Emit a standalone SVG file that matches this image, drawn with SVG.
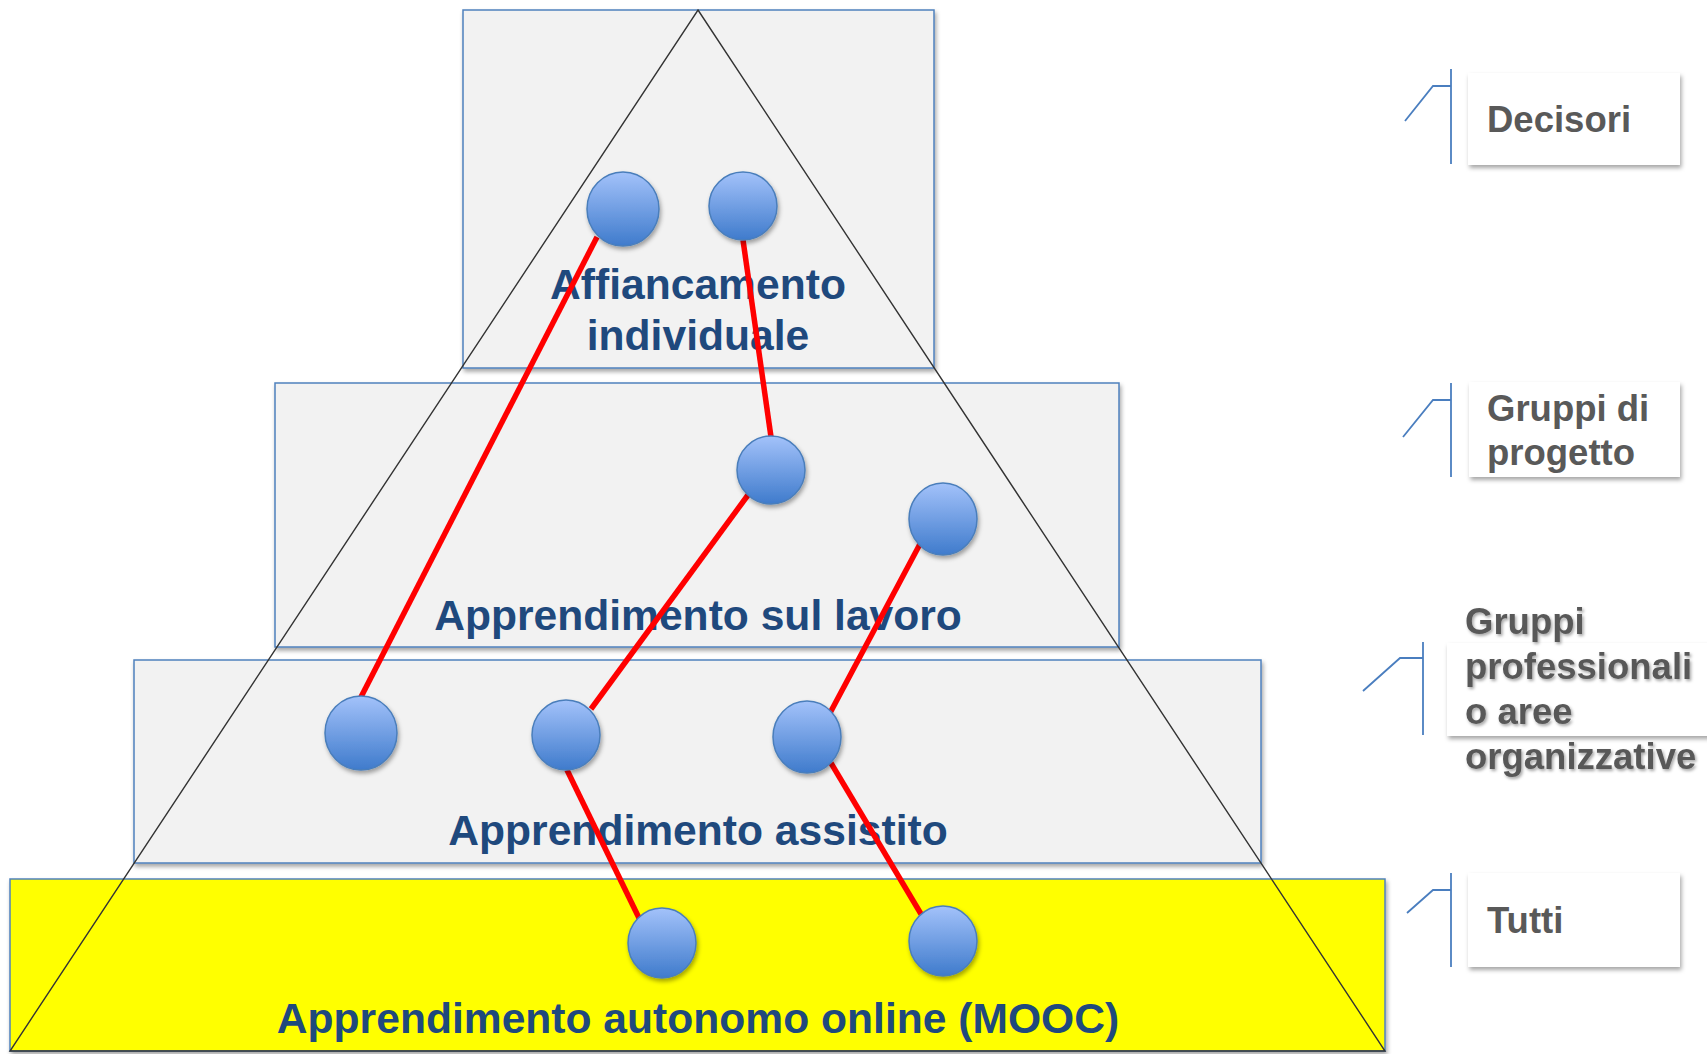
<svg xmlns="http://www.w3.org/2000/svg" width="1707" height="1054" viewBox="0 0 1707 1054">
<defs>
<linearGradient id="ball" x1="0" y1="0" x2="0" y2="1">
<stop offset="0" stop-color="#A3C2FA"/>
<stop offset="1" stop-color="#3F7BCC"/>
</linearGradient>
<filter id="sh" x="-10%" y="-10%" width="130%" height="130%">
<feDropShadow dx="1.5" dy="3" stdDeviation="2" flood-color="#000" flood-opacity="0.35"/>
</filter>
<filter id="tsh" x="-10%" y="-20%" width="130%" height="150%">
<feDropShadow dx="1.5" dy="2" stdDeviation="1.5" flood-color="#000" flood-opacity="0.35"/>
</filter>
<style>
.box{fill:#F2F2F2;stroke:#4F81BD;stroke-width:1.5;filter:url(#sh)}
.lvl{font-family:"Liberation Sans",Arial,sans-serif;font-weight:bold;font-size:42.6px;fill:#1F497D;text-anchor:middle}
.lab{font-family:"Liberation Sans",Arial,sans-serif;font-weight:bold;font-size:36.5px;fill:#595959}
.lbox{fill:#FFFFFF;filter:url(#sh)}
.brk{fill:none;stroke:#4A7EBF;stroke-width:1.8}
.link{stroke:#FF0000;stroke-width:5.5;stroke-linecap:butt}
.ball{fill:url(#ball);stroke:#4A7EBB;stroke-width:1.5;filter:url(#sh)}
</style>
</defs>
<g id="levels">
<g id="level-affiancamento"><rect class="box" x="463" y="10" width="471" height="358"/></g>
<g id="level-lavoro"><rect class="box" x="275" y="383" width="844" height="264"/></g>
<g id="level-assistito"><rect class="box" x="134" y="660" width="1127" height="203"/></g>
<g id="level-mooc"><rect x="10" y="879" width="1375" height="172" fill="#FFFF00" stroke="#4F81BD" stroke-width="1.5" filter="url(#sh)"/></g>
</g>
<g id="pyramid"><polygon points="698,10 1385,1051 10,1051" fill="none" stroke="#333333" stroke-width="1.4"/></g>
<g id="level-texts">
<text class="lvl" x="698" y="299">Affiancamento</text>
<text class="lvl" x="698" y="350">individuale</text>
<text class="lvl" x="698" y="630">Apprendimento sul lavoro</text>
<text class="lvl" x="698" y="845">Apprendimento assistito</text>
<text class="lvl" x="698" y="1033">Apprendimento autonomo online (MOOC)</text>
</g>
<g id="connectors">
<line class="link" x1="597" y1="237" x2="361" y2="697"/>
<line class="link" x1="743" y1="240" x2="771" y2="437"/>
<line class="link" x1="748" y1="495" x2="591" y2="709"/>
<line class="link" x1="920" y1="544" x2="830" y2="713"/>
<line class="link" x1="567" y1="770" x2="639" y2="918"/>
<line class="link" x1="831" y1="763" x2="921" y2="914"/>
</g>
<g id="n1"><ellipse class="ball" cx="623" cy="209" rx="36" ry="37"/></g>
<g id="n2"><ellipse class="ball" cx="743" cy="206" rx="34" ry="34"/></g>
<g id="n3"><ellipse class="ball" cx="771" cy="470" rx="34" ry="34"/></g>
<g id="n4"><ellipse class="ball" cx="943" cy="519" rx="34" ry="36"/></g>
<g id="n5"><ellipse class="ball" cx="361" cy="733" rx="36" ry="37"/></g>
<g id="n6"><ellipse class="ball" cx="566" cy="735" rx="34" ry="35"/></g>
<g id="n7"><ellipse class="ball" cx="807" cy="737" rx="34" ry="36"/></g>
<g id="n8"><ellipse class="ball" cx="662" cy="943" rx="34" ry="35"/></g>
<g id="n9"><ellipse class="ball" cx="943" cy="941" rx="34" ry="35"/></g>
<g id="label-decisori">
<polyline class="brk" points="1405,121 1433,86 1451,86"/>
<line class="brk" x1="1451" y1="69" x2="1451" y2="164"/>
<rect class="lbox" x="1468" y="73" width="212" height="92"/>
<text class="lab" x="1487" y="132">Decisori</text>
</g>
<g id="label-progetto">
<polyline class="brk" points="1403,437 1433,400 1451,400"/>
<line class="brk" x1="1451" y1="383" x2="1451" y2="477"/>
<rect class="lbox" x="1469" y="382" width="211" height="95"/>
<text class="lab" x="1487" y="421">Gruppi di</text>
<text class="lab" x="1487" y="465">progetto</text>
</g>
<g id="label-professionali">
<polyline class="brk" points="1363,691 1400,658 1423,658"/>
<line class="brk" x1="1423" y1="642" x2="1423" y2="735"/>
<rect class="lbox" x="1447" y="643" width="265" height="93"/>
<g filter="url(#tsh)">
<text class="lab" x="1465" y="634">Gruppi</text>
<text class="lab" x="1465" y="679">professionali</text>
<text class="lab" x="1465" y="724">o aree</text>
<text class="lab" x="1465" y="769">organizzative</text>
</g>
</g>
<g id="label-tutti">
<polyline class="brk" points="1407,913 1433,890 1451,890"/>
<line class="brk" x1="1451" y1="873" x2="1451" y2="967"/>
<rect class="lbox" x="1468" y="873" width="212" height="94"/>
<text class="lab" x="1487" y="933">Tutti</text>
</g>
</svg>
